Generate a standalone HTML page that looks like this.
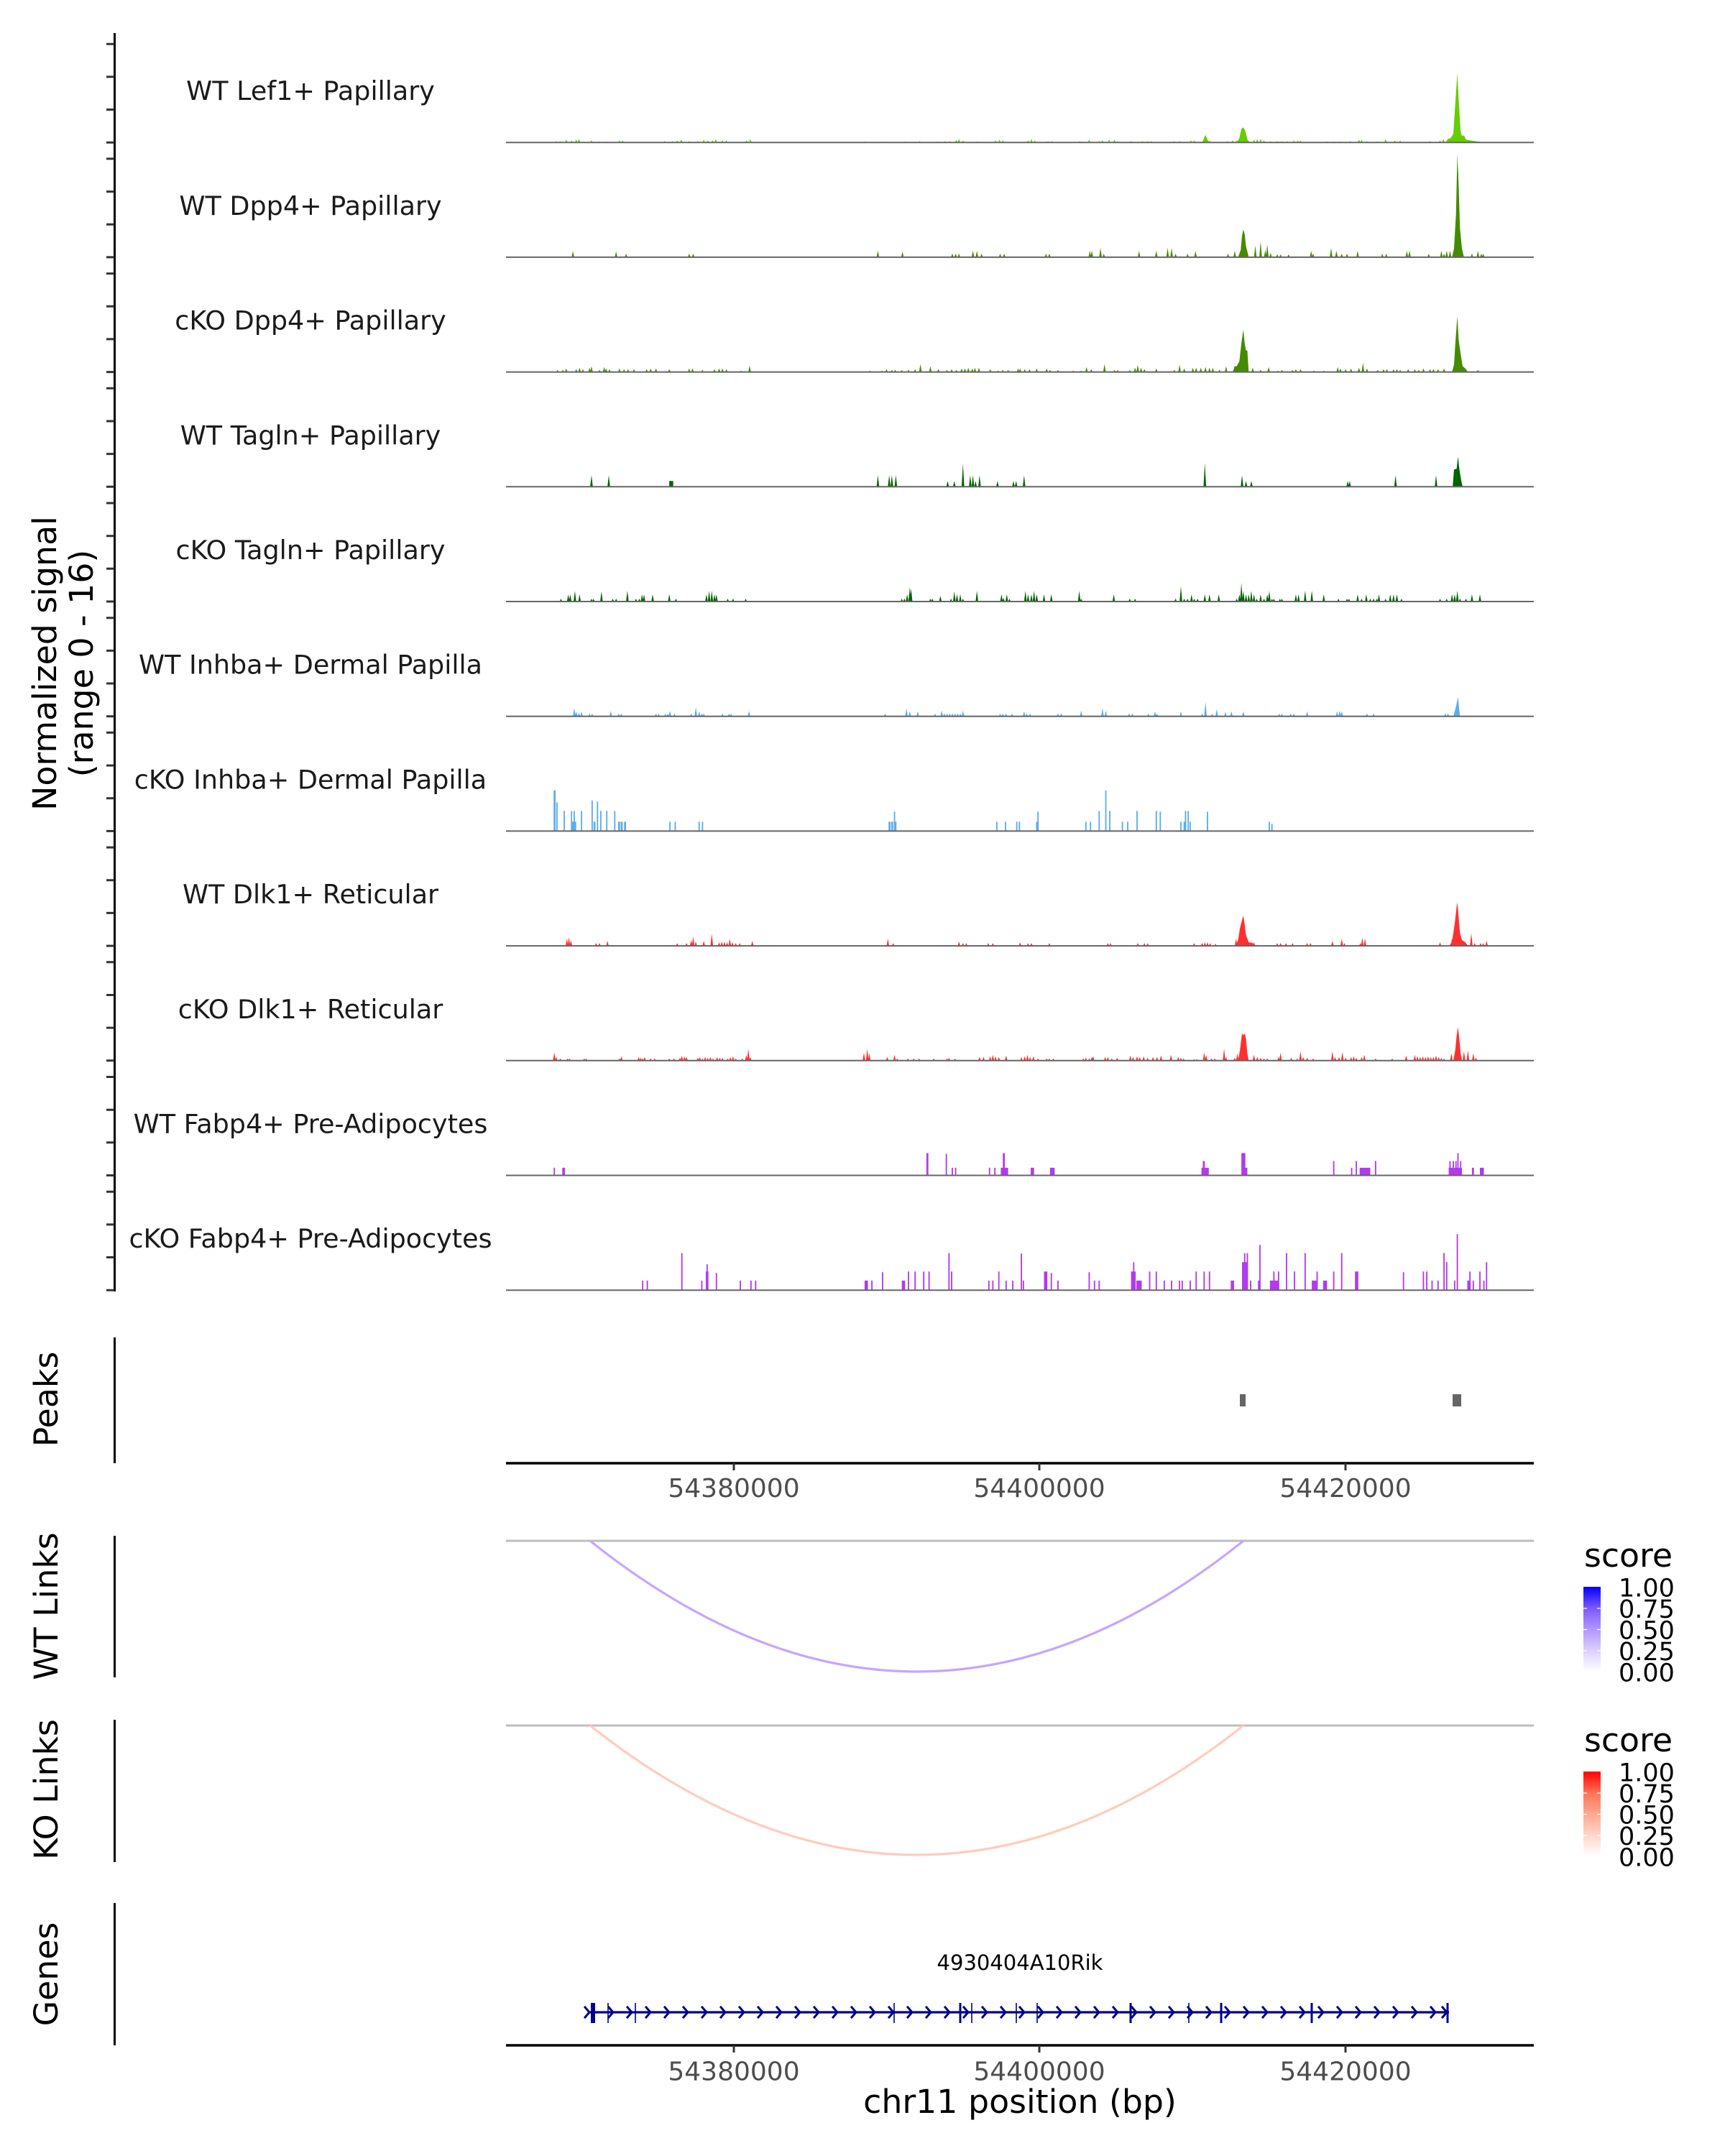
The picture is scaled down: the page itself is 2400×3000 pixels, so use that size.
<!DOCTYPE html>
<html><head><meta charset="utf-8"><style>
html,body{margin:0;padding:0;background:#fff}
svg{display:block}
text{font-family:"DejaVu Sans","Liberation Sans",sans-serif}
</style></head><body>
<svg width="2400" height="3000" viewBox="0 0 2400 3000" xmlns="http://www.w3.org/2000/svg">
<defs>
<linearGradient id="gB" x1="0" y1="1" x2="0" y2="0">
<stop offset="0" stop-color="#ffffff"/><stop offset="0.25" stop-color="#dccfff"/><stop offset="0.5" stop-color="#b096ff"/><stop offset="0.75" stop-color="#7c58ff"/><stop offset="1" stop-color="#0000ff"/>
</linearGradient>
<linearGradient id="gR" x1="0" y1="1" x2="0" y2="0">
<stop offset="0" stop-color="#ffffff"/><stop offset="0.25" stop-color="#ffd5c9"/><stop offset="0.5" stop-color="#ffa890"/><stop offset="0.75" stop-color="#ff7258"/><stop offset="1" stop-color="#ff0000"/>
</linearGradient>
</defs>
<rect width="2400" height="3000" fill="#fff"/>

<!-- y axis title -->
<text transform="translate(78,923) rotate(-90)" text-anchor="middle" font-size="45.8" fill="#000">Normalized signal</text>
<text transform="translate(129,923) rotate(-90)" text-anchor="middle" font-size="45.8" fill="#000">(range 0 - 16)</text>

<!-- track axis -->
<line x1="159.5" y1="46" x2="159.5" y2="1797" stroke="#000" stroke-width="3"/>
<path stroke="#333" stroke-width="3" fill="none" d="M148 198.2H159M148 152.5H159M148 106.9H159M148 61.2H159M148 357.9H159M148 312.2H159M148 266.6H159M148 220.9H159M148 517.6H159M148 471.9H159M148 426.3H159M148 380.6H159M148 677.3H159M148 631.6H159M148 586H159M148 540.3H159M148 837H159M148 791.3H159M148 745.7H159M148 700H159M148 996.7H159M148 951H159M148 905.4H159M148 859.7H159M148 1156.4H159M148 1110.7H159M148 1065.1H159M148 1019.4H159M148 1316.1H159M148 1270.4H159M148 1224.8H159M148 1179.1H159M148 1475.8H159M148 1430.1H159M148 1384.5H159M148 1338.8H159M148 1635.5H159M148 1589.8H159M148 1544.2H159M148 1498.5H159M148 1795.2H159M148 1749.5H159M148 1703.9H159M148 1658.2H159"/>

<!-- track labels -->
<g font-size="36.5" fill="#1a1a1a" text-anchor="middle">
<text x="432" y="139.2">WT Lef1+ Papillary</text>
<text x="432" y="298.9">WT Dpp4+ Papillary</text>
<text x="432" y="458.6">cKO Dpp4+ Papillary</text>
<text x="432" y="618.3">WT Tagln+ Papillary</text>
<text x="432" y="778">cKO Tagln+ Papillary</text>
<text x="432" y="937.7">WT Inhba+ Dermal Papilla</text>
<text x="432" y="1097.4">cKO Inhba+ Dermal Papilla</text>
<text x="432" y="1257.1">WT Dlk1+ Reticular</text>
<text x="432" y="1416.8">cKO Dlk1+ Reticular</text>
<text x="432" y="1576.5">WT Fabp4+ Pre-Adipocytes</text>
<text x="432" y="1736.2">cKO Fabp4+ Pre-Adipocytes</text>
</g>

<!-- Track 0 WT Lef1 -->
<g transform="translate(700,198.2) scale(0.9245,1)"><path fill="#66CD00" d="M78 0l2-2l2 2zM84 0l2-2l2 2zM93 0l2-4l2 4zM101 0l2-3l2 3zM108 0l2-4l2 4zM112 0l2-5l2 5zM131 0l2-3l2 3zM143 0l2-1.5l2 1.5zM153 0l2-1.5l2 1.5zM173 0l2-3l2 3zM178 0l2-3l2 3zM196 0l2-1l2 1zM241 0l2-2l2 2zM253 0l2-2l2 2zM260 0l2-3l2 3zM266 0l2-4l2 4zM278 0l2-2l2 2zM291 0l2-2l2 2zM300 0l2-4l2 4zM306 0l2-3l2 3zM313 0l2-3l2 3zM318 0l2-5l2 5zM328 0l2-3l2 3zM334 0l2-3l2 3zM364 0l2-3l2 3zM370 0l2-5l2 5zM542 0l2-1.5l2 1.5zM573 0l2-1.5l2 1.5zM603 0l2-1.5l2 1.5zM625 0l2-2l2 2zM653 0l2-1.5l2 1.5zM663 0l2-2l2 2zM670 0l2-2l2 2zM680 0l2-4l2 4zM684 0l2-5l2 5zM690 0l2-3l2 3zM710 0l2-1.5l2 1.5zM739 0l2-3l2 3zM745 0l2-4l2 4zM750 0l2-3l2 3zM788 0l2-3l2 3zM793 0l2-5l2 5zM798 0l2-3l2 3zM818 0l2-2l2 2zM824 0l2-2l2 2zM866 0l2-2l2 2zM880 0l2-4l2 4zM895 0l2-2l2 2zM900 0l2-3l2 3zM910 0l2-4l2 4zM918 0l2-4l2 4zM923 0l2-2l2 2zM943 0l2-2l2 2zM960 0l2-2l2 2zM968 0l2-2l2 2zM973 0l2-2l2 2zM1008 0l2-2l2 2zM1016 0l2-2l2 2zM1033 0l2-3l2 3zM1038 0l2-3l2 3zM1052 0l5-10.6l5 10.6zM1061 0l2-3l2 3zM1088 0l2-2l2 2zM1096 0l2-3l2 3zM1102 0l2-3l2 3zM1104 0L1108-6L1111-19L1114-21L1117-16L1120-4L1124 0zM1128 0l2-4l2 4zM1133 0l2-5l2 5zM1138 0l2-5l2 5zM1143 0l2-3l2 3zM1153 0l2-2l2 2zM1163 0l2-2l2 2zM1170 0l2-2l2 2zM1178 0l2-2l2 2zM1188 0l2-3l2 3zM1194 0l2-3l2 3zM1198 0l2-3l2 3zM1238 0l2-1.5l2 1.5zM1248 0l2-1.5l2 1.5zM1258 0l2-1.5l2 1.5zM1273 0l2-2l2 2zM1286 0l2-4l2 4zM1290 0l2-4l2 4zM1298 0l2-2l2 2zM1313 0l2-1.5l2 1.5zM1326 0l2-5l2 5zM1340 0l2-3l2 3zM1348 0l2-3l2 3zM1378 0l2-1l2 1zM1393 0l2-2l2 2zM1408 0l2-3l2 3zM1413 0l2-5l2 5zM1418 0L1422-5L1426-6L1430-12L1433-55L1436-96L1438-60L1441-15L1443-9L1446-10L1449-4L1455-3L1462-2L1470-1L1480 0z"/></g>

<!-- Track 1 WT Dpp4 -->
<g transform="translate(700,357.9) scale(0.9245,1)"><path fill="#458B00" d="M1428 0L1431-12L1434-60L1436-144L1438-100L1440-40L1443-12L1446 0zM1106 0L1110-10L1112-30L1114-38.6L1116-32L1118-15L1120-8L1122 0zM103 0l2-8.6l2 8.6zM168 0l2-8l2 8zM183 0l2-5l2 5zM278 0l2-5l2 5zM284 0l2-5l2 5zM562 0l2-9l2 9zM599 0l2-8l2 8zM674 0l2-5l2 5zM679 0l2-5l2 5zM684 0l2-5l2 5zM705 0l2-9l2 9zM711 0l2-9l2 9zM718 0l2-5l2 5zM746 0l2-5l2 5zM752 0l2-5l2 5zM815 0l2-5l2 5zM820 0l2-5l2 5zM881 0l2-9l2 9zM884 0l2-9l2 9zM897 0l2-13l2 13zM902 0l2-5l2 5zM955 0l2-9l2 9zM981 0l2-9l2 9zM998 0l2-13l2 13zM1004 0l2-13l2 13zM1010 0l2-5l2 5zM1028 0l2-5l2 5zM1040 0l2-9l2 9zM1089 0l2-5l2 5zM1099 0l2-9l2 9zM1130 0l2-16l2 16zM1138 0l2-22l2 22zM1145 0l2-10l2 10zM1148 0l2-18l2 18zM1153 0l2-6l2 6zM1163 0l2-4l2 4zM1168 0l2-4l2 4zM1180 0l2-4l2 4zM1214 0l2-9l2 9zM1217 0l2-5l2 5zM1244 0l2-13l2 13zM1252 0l2-9l2 9zM1260 0l2-5l2 5zM1268 0l2-5l2 5zM1284 0l2-9l2 9zM1321 0l2-5l2 5zM1327 0l2-5l2 5zM1358 0l2-9l2 9zM1362 0l2-9l2 9zM1391 0l2-5l2 5zM1410 0l2-9l2 9zM1414 0l2-5l2 5zM1418 0l2-9l2 9zM1423 0l2-9l2 9zM1456 0l2-5l2 5zM1465 0l2-9l2 9zM1470 0l2-5l2 5zM1473 0l2-5l2 5z"/></g>

<!-- Track 2 cKO Dpp4 -->
<g transform="translate(700,517.6) scale(0.9245,1)"><path fill="#458B00" d="M1428 0L1431-10L1433-40L1436-77.5L1438-45L1441-25L1444-8L1448-5L1452 0zM1098 0L1101-8L1104-8L1108-15L1111-40L1114-59L1116-40L1118-30L1120-30L1122 0zM80 0l2-3l2 3zM88 0l2-3l2 3zM93 0l2-5l2 5zM108 0l2-4l2 4zM113 0l2-6l2 6zM118 0l2-4l2 4zM128 0l2-6l2 6zM131 0l2-8l2 8zM143 0l2-3l2 3zM150 0l2-7l2 7zM153 0l2-5l2 5zM158 0l2-4l2 4zM173 0l2-5l2 5zM180 0l2-4l2 4zM186 0l2-4l2 4zM195 0l2-4l2 4zM214 0l2-4l2 4zM220 0l2-5l2 5zM228 0l2-5l2 5zM248 0l2-4l2 4zM278 0l2-5l2 5zM283 0l2-5l2 5zM298 0l2-3l2 3zM316 0l2-4l2 4zM323 0l2-5l2 5zM328 0l2-5l2 5zM334 0l2-4l2 4zM356 0l2-2l2 2zM369 0l2-9l2 9zM550 0l2-2l2 2zM568 0l2-2l2 2zM575 0l2-4l2 4zM583 0l2-3l2 3zM588 0l2-3l2 3zM598 0l2-3l2 3zM608 0l2-3l2 3zM618 0l2-4l2 4zM626 0l2-11l2 11zM641 0l2-8l2 8zM653 0l2-4l2 4zM666 0l2-3l2 3zM673 0l2-4l2 4zM680 0l2-3l2 3zM688 0l2-5l2 5zM693 0l2-5l2 5zM698 0l2-6l2 6zM704 0l2-5l2 5zM708 0l2-6l2 6zM714 0l2-6l2 6zM731 0l2-4l2 4zM743 0l2-2l2 2zM750 0l2-3l2 3zM758 0l2-3l2 3zM773 0l2-5l2 5zM776 0l2-5l2 5zM783 0l2-4l2 4zM790 0l2-4l2 4zM801 0l2-5l2 5zM816 0l2-5l2 5zM821 0l2-3l2 3zM833 0l2-3l2 3zM856 0l2-2l2 2zM868 0l2-2l2 2zM876 0l2-7l2 7zM883 0l2-4l2 4zM903 0l2-11l2 11zM918 0l2-3l2 3zM923 0l2-3l2 3zM941 0l2-3l2 3zM949 0l2-6l2 6zM953 0l2-10l2 10zM958 0l2-6l2 6zM963 0l2-4l2 4zM981 0l2-5l2 5zM1008 0l2-3l2 3zM1016 0l2-10l2 10zM1023 0l2-5l2 5zM1036 0l2-6l2 6zM1041 0l2-6l2 6zM1048 0l2-6l2 6zM1055 0l2-7l2 7zM1061 0l2-6l2 6zM1066 0l2-6l2 6zM1076 0l2-3l2 3zM1086 0l2-8l2 8zM1126 0l2-6l2 6zM1138 0l2-3l2 3zM1150 0l2-7l2 7zM1164 0l2-2l2 2zM1170 0l2-3l2 3zM1186 0l2-3l2 3zM1191 0l2-4l2 4zM1198 0l2-4l2 4zM1218 0l2-2l2 2zM1233 0l2-2l2 2zM1254 0l2-7l2 7zM1258 0l2-5l2 5zM1266 0l2-4l2 4zM1274 0l2-5l2 5zM1286 0l2-6l2 6zM1292 0l2-13l2 13zM1298 0l2-5l2 5zM1314 0l2-3l2 3zM1323 0l2-4l2 4zM1328 0l2-4l2 4zM1338 0l2-4l2 4zM1343 0l2-4l2 4zM1348 0l2-3l2 3zM1360 0l2-4l2 4zM1370 0l2-4l2 4zM1376 0l2-3l2 3zM1383 0l2-5l2 5zM1393 0l2-4l2 4zM1398 0l2-4l2 4zM1405 0l2-4l2 4zM1414 0l2-5l2 5zM1465 0l2-3l2 3z"/></g>

<!-- Track 3 WT Tagln -->
<g transform="translate(700,677.3) scale(0.9245,1)"><path fill="#006400" d="M131 0l2-16l2 16zM157 0l2-16l2 16zM250 0v-8h6v8zM562 0l2-16l2 16zM579 0l2-16l2 16zM583 0l2-16l2 16zM589 0l2-16l2 16zM667 0l2-8l2 8zM677 0l2-8l2 8zM690 0l2-32l2 32zM701 0l2-16l2 16zM705 0l2-16l2 16zM709 0l2-8l2 8zM715 0l2-16l2 16zM742 0l2-8l2 8zM766 0l2-8l2 8zM770 0l2-8l2 8zM782 0l2-16l2 16zM1054 0l2-33l2 33zM1110 0l2-16l2 16zM1116 0l2-8l2 8zM1124 0l2-8l2 8zM1269 0l2-8l2 8zM1272 0l2-8l2 8zM1341 0l2-16l2 16zM1402 0l2-16l2 16zM1429 0L1431-24L1435-25L1437-42L1439-25L1442-8L1444 0z"/></g>

<!-- Track 4 cKO Tagln -->
<g transform="translate(700,837) scale(0.9245,1)"><path fill="#006400" d="M85 0l2-4l2 4zM96 0l2-10l2 10zM99 0l2-10l2 10zM106 0l2-15l2 15zM113 0l2-10l2 10zM131 0l2-4l2 4zM134 0l2-4l2 4zM146 0l2-14l2 14zM163 0l2-4l2 4zM168 0l2-4l2 4zM185 0l2-15l2 15zM198 0l2-4l2 4zM203 0l2-4l2 4zM207 0l2-10l2 10zM210 0l2-10l2 10zM223 0l2-10l2 10zM248 0l2-10l2 10zM258 0l2-4l2 4zM304 0l2-10l2 10zM308 0l2-15l2 15zM312 0l2-15l2 15zM316 0l2-10l2 10zM319 0l2-10l2 10zM336 0l2-4l2 4zM344 0l2-4l2 4zM363 0l2-4l2 4zM598 0l2-4l2 4zM602 0l2-4l2 4zM606 0l2-10l2 10zM610 0l2-20l2 20zM612 0l2-18l2 18zM641 0l2-4l2 4zM644 0l2-4l2 4zM656 0l2-8l2 8zM672 0l2-4l2 4zM677 0l2-14l2 14zM681 0l2-10l2 10zM686 0l2-10l2 10zM690 0l2-4l2 4zM711 0l2-15l2 15zM748 0l2-10l2 10zM751 0l2-5l2 5zM756 0l2-10l2 10zM760 0l2-4l2 4zM784 0l2-15l2 15zM788 0l2-10l2 10zM793 0l2-10l2 10zM797 0l2-15l2 15zM801 0l2-10l2 10zM812 0l2-10l2 10zM823 0l2-10l2 10zM865 0l2-15l2 15zM868 0l2-4l2 4zM917 0l2-10l2 10zM941 0l2-4l2 4zM949 0l2-4l2 4zM1010 0l2-4l2 4zM1018 0l2-21l2 21zM1023 0l2-4l2 4zM1028 0l2-4l2 4zM1034 0l2-10l2 10zM1038 0l2-4l2 4zM1043 0l2-4l2 4zM1054 0l2-10l2 10zM1061 0l2-10l2 10zM1075 0l2-10l2 10zM1102 0l2-4l2 4zM1106 0l2-10l2 10zM1109 0l2-26l2 26zM1112 0l2-15l2 15zM1116 0l2-10l2 10zM1120 0l2-10l2 10zM1124 0l2-15l2 15zM1128 0l2-10l2 10zM1132 0l2-4l2 4zM1138 0l2-10l2 10zM1143 0l2-4l2 4zM1148 0l2-10l2 10zM1151 0l2-15l2 15zM1155 0l2-4l2 4zM1158 0l2-4l2 4zM1167 0l2-4l2 4zM1170 0l2-4l2 4zM1191 0l2-10l2 10zM1195 0l2-10l2 10zM1205 0l2-15l2 15zM1215 0l2-15l2 15zM1233 0l2-10l2 10zM1255 0l2-4l2 4zM1268 0l2-4l2 4zM1271 0l2-4l2 4zM1284 0l2-10l2 10zM1290 0l2-4l2 4zM1297 0l2-10l2 10zM1303 0l2-4l2 4zM1308 0l2-4l2 4zM1313 0l2-4l2 4zM1316 0l2-10l2 10zM1326 0l2-4l2 4zM1333 0l2-10l2 10zM1338 0l2-10l2 10zM1343 0l2-10l2 10zM1350 0l2-4l2 4zM1408 0l2-4l2 4zM1418 0l2-4l2 4zM1426 0l2-10l2 10zM1430 0l2-10l2 10zM1434 0l2-15l2 15zM1438 0l2-4l2 4zM1447 0l2-4l2 4zM1456 0l2-10l2 10zM1468 0l2-10l2 10z"/></g>

<!-- Track 5 WT Inhba -->
<g transform="translate(700,996.7) scale(0.9245,1)"><path fill="#5CACEE" d="M105 0l2-12l2 12zM108 0l2-7l2 7zM112 0l2-5l2 5zM116 0l2-7l2 7zM128 0l2-4l2 4zM132 0l2-4l2 4zM160 0l2-7.7l2 7.7zM172 0l2-4l2 4zM176 0l2-4l2 4zM228 0l2-4l2 4zM232 0l2-4l2 4zM242 0l2-4l2 4zM246 0l2-4l2 4zM249 0l2-7.7l2 7.7zM256 0l2-4l2 4zM281 0l2-4l2 4zM288 0l2-12.6l2 12.6zM293 0l2-7l2 7zM297 0l2-4l2 4zM300 0l2-4l2 4zM328 0l2-4l2 4zM338 0l2-4l2 4zM341 0l2-4l2 4zM368 0l2-7.7l2 7.7zM573 0l2-4l2 4zM605 0l2-11l2 11zM610 0l2-7l2 7zM622 0l2-7l2 7zM648 0l2-4l2 4zM658 0l2-8l2 8zM662 0l2-4l2 4zM666 0l2-4l2 4zM670 0l2-4l2 4zM674 0l2-4l2 4zM678 0l2-4l2 4zM682 0l2-4l2 4zM686 0l2-4l2 4zM690 0l2-8l2 8zM746 0l2-4l2 4zM750 0l2-4l2 4zM755 0l2-4l2 4zM764 0l2-4l2 4zM782 0l2-7l2 7zM786 0l2-4l2 4zM791 0l2-4l2 4zM833 0l2-4l2 4zM838 0l2-4l2 4zM868 0l2-8l2 8zM900 0l2-12l2 12zM905 0l2-8l2 8zM940 0l2-4l2 4zM945 0l2-4l2 4zM969 0l2-4l2 4zM979 0l2-7l2 7zM982 0l2-4l2 4zM1018 0l2-7l2 7zM1050 0l2-4l2 4zM1055 0l2-20l2 20zM1065 0l2-4l2 4zM1072 0l2-10l2 10zM1085 0l2-6l2 6zM1094 0l2-7l2 7zM1112 0l2-7l2 7zM1166 0l2-4l2 4zM1170 0l2-4l2 4zM1183 0l2-4l2 4zM1188 0l2-4l2 4zM1208 0l2-7l2 7zM1253 0l2-7l2 7zM1257 0l2-8l2 8zM1260 0l2-7l2 7zM1298 0l2-4l2 4zM1308 0l2-4l2 4zM1416 0l2-4l2 4zM1420 0l2-4l2 4zM1430 0L1433-10L1435-18L1437-27L1439-8L1440 0z"/></g>

<!-- Track 6 cKO Inhba -->
<g transform="translate(700,1156.4) scale(0.9245,1)"><path fill="#5CACEE" d="M76 0v-56.5h3v56.5zM80 0v-40h2v40zM91 0v-28h2v28zM102 0v-28h2v28zM104 0v-13h6v13zM106 0v-28h2v28zM117 0v-28h2v28zM133 0v-42.6h2v42.6zM136 0v-13h3v13zM141 0v-41h2v41zM146 0v-28h2v28zM155 0v-28h2v28zM167 0v-28h2v28zM173 0v-13h3v13zM177 0v-13h3v13zM182 0v-13h3v13zM250 0v-13h2v13zM258 0v-13h2v13zM294 0v-13h2v13zM299 0v-13h2v13zM580 0v-13h3v13zM584 0v-13h3v13zM588 0v-27h2v27zM590 0v-13h2v13zM742 0v-13h2v13zM755 0v-13h2v13zM772 0v-13h2v13zM776 0v-13h2v13zM802 0v-13h4v13zM804 0v-27h2v27zM876 0v-13h2v13zM883 0v-13h2v13zM896 0v-28h2v28zM906 0v-56.5h2v56.5zM912 0v-28h2v28zM931 0v-13h2v13zM939 0v-13h2v13zM953 0v-28h2v28zM982 0v-28h2v28zM988 0v-27h2v27zM1019 0v-13h2v13zM1024 0v-13h3v13zM1026 0v-28h2v28zM1030 0v-28h2v28zM1033 0v-13h2v13zM1059 0v-27h2v27zM1152 0v-13h2v13zM1156 0v-10h2v10z"/></g>

<!-- Track 7 WT Dlk1 -->
<g transform="translate(700,1316.1) scale(0.9245,1)"><path fill="#FF3030" d="M1102 0L1106-8L1109-25L1112-36L1114-42L1116-30L1118-15L1122-5L1128-4L1130 0zM1424 0L1428-6L1432-30L1435-55L1436-60.5L1438-40L1440-18L1443-8L1448-5L1452 0zM94 0l2-10l2 10zM97 0l2-12l2 12zM100 0l2-8l2 8zM138 0l2-4l2 4zM143 0l2-4l2 4zM155 0l2-7l2 7zM260 0l2-4l2 4zM274 0l2-4l2 4zM281 0l2-8l2 8zM284 0l2-13l2 13zM288 0l2-6l2 6zM300 0l2-7l2 7zM312 0l2-17l2 17zM323 0l2-5l2 5zM327 0l2-6l2 6zM331 0l2-6l2 6zM335 0l2-5l2 5zM339 0l2-10l2 10zM343 0l2-5l2 5zM348 0l2-4l2 4zM354 0l2-4l2 4zM373 0l2-7l2 7zM577 0l2-10l2 10zM585 0l2-4l2 4zM684 0l2-6l2 6zM690 0l2-4l2 4zM695 0l2-4l2 4zM728 0l2-4l2 4zM735 0l2-4l2 4zM776 0l2-5l2 5zM788 0l2-4l2 4zM793 0l2-4l2 4zM820 0l2-4l2 4zM908 0l2-4l2 4zM912 0l2-4l2 4zM953 0l2-4l2 4zM963 0l2-4l2 4zM968 0l2-4l2 4zM1038 0l2-4l2 4zM1050 0l2-4l2 4zM1054 0l2-5l2 5zM1058 0l2-5l2 5zM1062 0l2-4l2 4zM1070 0l2-3l2 3zM1101 0l2-10l2 10zM1124 0l2-5l2 5zM1128 0l2-5l2 5zM1163 0l2-4l2 4zM1168 0l2-4l2 4zM1176 0l2-4l2 4zM1186 0l2-4l2 4zM1208 0l2-4l2 4zM1213 0l2-4l2 4zM1246 0l2-7l2 7zM1260 0l2-10l2 10zM1264 0l2-4l2 4zM1288 0l2-4l2 4zM1291 0l2-11l2 11zM1295 0l2-10l2 10zM1408 0l2-5l2 5zM1426 0l2-10l2 10zM1455 0l2-17.6l2 17.6zM1460 0l2-4l2 4zM1469 0l2-4l2 4zM1473 0l2-4l2 4zM1478 0l2-7l2 7z"/></g>

<!-- Track 8 cKO Dlk1 -->
<g transform="translate(700,1475.8) scale(0.9245,1)"><path fill="#FF3030" d="M1106 0L1109-15L1112-38L1114-35L1116-38L1118-30L1120-10L1122 0zM1430 0L1433-15L1435-35L1437-46.6L1439-30L1441-10L1443 0zM75 0l2-11.6l2 11.6zM78 0l2-5l2 5zM84 0l2-3l2 3zM95 0l2-3l2 3zM98 0l2-3l2 3zM120 0l2-3l2 3zM123 0l2-3l2 3zM173 0l2-3l2 3zM176 0l2-6l2 6zM202 0l2-5l2 5zM205 0l2-4l2 4zM208 0l2-3l2 3zM211 0l2-5l2 5zM220 0l2-3l2 3zM226 0l2-3l2 3zM248 0l2-3l2 3zM255 0l2-3l2 3zM264 0l2-4l2 4zM267 0l2-7l2 7zM271 0l2-6l2 6zM274 0l2-5l2 5zM291 0l2-4l2 4zM294 0l2-5l2 5zM298 0l2-3l2 3zM302 0l2-5l2 5zM306 0l2-4l2 4zM310 0l2-5l2 5zM314 0l2-3l2 3zM320 0l2-5l2 5zM324 0l2-4l2 4zM328 0l2-4l2 4zM336 0l2-3l2 3zM340 0l2-5l2 5zM344 0l2-6l2 6zM348 0l2-3l2 3zM358 0l2-3l2 3zM364 0l2-8l2 8zM367 0l2-16.6l2 16.6zM370 0l2-5l2 5zM541 0l2-11l2 11zM546 0l2-16.6l2 16.6zM549 0l2-10l2 10zM576 0l2-5l2 5zM587 0l2-8l2 8zM591 0l2-3l2 3zM607 0l2-3l2 3zM616 0l2-3l2 3zM624 0l2-3l2 3zM646 0l2-3l2 3zM666 0l2-3l2 3zM669 0l2-4l2 4zM678 0l2-3l2 3zM715 0l2-5l2 5zM721 0l2-5l2 5zM731 0l2-6l2 6zM735 0l2-8l2 8zM739 0l2-6l2 6zM744 0l2-5l2 5zM755 0l2-7l2 7zM778 0l2-5l2 5zM783 0l2-6l2 6zM787 0l2-8l2 8zM791 0l2-5l2 5zM796 0l2-6l2 6zM803 0l2-3l2 3zM816 0l2-3l2 3zM820 0l2-3l2 3zM826 0l2-3l2 3zM871 0l2-3l2 3zM875 0l2-4l2 4zM880 0l2-3l2 3zM884 0l2-5l2 5zM886 0l2-6l2 6zM904 0l2-5l2 5zM908 0l2-5l2 5zM914 0l2-3l2 3zM922 0l2-4l2 4zM942 0l2-7l2 7zM946 0l2-5l2 5zM952 0l2-6l2 6zM956 0l2-5l2 5zM962 0l2-6l2 6zM968 0l2-4l2 4zM976 0l2-5l2 5zM982 0l2-5l2 5zM988 0l2-7l2 7zM1003 0l2-8l2 8zM1014 0l2-5l2 5zM1018 0l2-4l2 4zM1022 0l2-3l2 3zM1038 0l2-2l2 2zM1042 0l2-2l2 2zM1053 0l2-11.6l2 11.6zM1056 0l2-8l2 8zM1064 0l2-3l2 3zM1069 0l2-3l2 3zM1083 0l2-16.6l2 16.6zM1086 0l2-5l2 5zM1099 0l2-4l2 4zM1103 0l2-10l2 10zM1128 0l2-8l2 8zM1133 0l2-5l2 5zM1138 0l2-4l2 4zM1143 0l2-3l2 3zM1148 0l2-3l2 3zM1165 0l2-5l2 5zM1168 0l2-11l2 11zM1184 0l2-4l2 4zM1193 0l2-3l2 3zM1198 0l2-13l2 13zM1202 0l2-5l2 5zM1208 0l2-4l2 4zM1217 0l2-3l2 3zM1246 0l2-13l2 13zM1250 0l2-5l2 5zM1256 0l2-5l2 5zM1261 0l2-12l2 12zM1266 0l2-4l2 4zM1274 0l2-5l2 5zM1278 0l2-6l2 6zM1282 0l2-4l2 4zM1290 0l2-5l2 5zM1294 0l2-8l2 8zM1311 0l2-3l2 3zM1336 0l2-3l2 3zM1357 0l2-7l2 7zM1370 0l2-8l2 8zM1374 0l2-6l2 6zM1378 0l2-5l2 5zM1382 0l2-6l2 6zM1386 0l2-5l2 5zM1390 0l2-6l2 6zM1394 0l2-5l2 5zM1398 0l2-5l2 5zM1402 0l2-7l2 7zM1406 0l2-5l2 5zM1410 0l2-4l2 4zM1414 0l2-3l2 3zM1425 0l2-10l2 10zM1444 0l2-13l2 13zM1450 0l2-14l2 14zM1458 0l2-10l2 10zM1462 0l2-4l2 4z"/></g>

<!-- Track 9 WT Fabp4 -->
<g transform="translate(700,1635.5) scale(0.9245,1)"><path fill="#B23AEE" d="M76 0v-10.6h2v10.6zM89 0v-10.6h4v10.6zM637 0v-31h3v31zM666 0v-30h2v30zM675 0v-10.6h2v10.6zM680 0v-10.6h2v10.6zM731 0v-10.6h2v10.6zM739 0v-10.6h2v10.6zM749 0v-10.6h11v10.6zM752 0v-31h3v31zM794 0v-10.6h5v10.6zM823 0v-10.6h7v10.6zM1051 0v-10.6h11v10.6zM1053 0v-20h3v20zM1111 0v-31h6v31zM1117 0v-10.6h3v10.6zM1249 0v-20h2v20zM1276 0v-10.6h2v10.6zM1283 0v-20h2v20zM1289 0v-10.6h16v10.6zM1312 0v-20h2v20zM1423 0v-10.6h20v10.6zM1424 0v-20h2v20zM1429 0v-20h2v20zM1433 0v-20h2v20zM1436 0v-31h2v31zM1440 0v-20h2v20zM1458 0v-10.6h3v10.6zM1470 0v-10.6h6v10.6z"/></g>

<!-- Track 10 cKO Fabp4 -->
<g transform="translate(700,1795.2) scale(0.9245,1)"><path fill="#B23AEE" d="M209 0v-13.3h2v13.3zM216 0v-13.3h2v13.3zM268 0v-51.6h2v51.6zM298 0v-13.3h2v13.3zM305 0v-26h4v26zM306 0v-36h2v36zM320 0v-24h2v24zM356 0v-13.3h2v13.3zM372 0v-13.3h2v13.3zM379 0v-13.3h2v13.3zM544 0v-13.3h5v13.3zM554 0v-13.3h2v13.3zM570 0v-25h2v25zM600 0v-13.3h5v13.3zM609 0v-26h2v26zM619 0v-26h2v26zM632 0v-26h2v26zM640 0v-26h2v26zM670 0v-51.6h2v51.6zM674 0v-26h2v26zM730 0v-13.3h2v13.3zM736 0v-13.3h2v13.3zM745 0v-26h2v26zM756 0v-13.3h2v13.3zM766 0v-13.3h2v13.3zM779 0v-51h2v51zM782 0v-13.3h2v13.3zM814 0v-26h5v26zM824 0v-24h2v24zM834 0v-13.3h2v13.3zM881 0v-25h2v25zM889 0v-13.3h2v13.3zM896 0v-13.3h2v13.3zM945 0v-26h7v26zM948 0v-39h2v39zM953 0v-13.3h8v13.3zM972 0v-26h2v26zM982 0v-26h2v26zM994 0v-13.3h2v13.3zM1005 0v-13.3h2v13.3zM1017 0v-13.3h2v13.3zM1021 0v-13.3h2v13.3zM1033 0v-13.3h2v13.3zM1042 0v-26h2v26zM1054 0v-26h2v26zM1062 0v-26h2v26zM1095 0v-13.3h5v13.3zM1112 0v-39h8v39zM1115 0v-51.6h2v51.6zM1119 0v-51.6h2v51.6zM1124 0v-13.3h2v13.3zM1136 0v-13.3h2v13.3zM1138 0v-63h2v63zM1154 0v-13.3h12v13.3zM1159 0v-26h2v26zM1166 0v-26h2v26zM1178 0v-51.6h2v51.6zM1190 0v-26h2v26zM1206 0v-51.6h2v51.6zM1217 0v-13.3h8v13.3zM1224 0v-26h2v26zM1234 0v-13.3h6v13.3zM1249 0v-26h2v26zM1261 0v-51.6h2v51.6zM1282 0v-26h5v26zM1354 0v-25h2v25zM1384 0v-26h2v26zM1389 0v-26h2v26zM1397 0v-13.3h2v13.3zM1406 0v-13.3h2v13.3zM1415 0v-51.6h2v51.6zM1419 0v-39h2v39zM1431 0v-13.3h2v13.3zM1435 0v-78h2v78zM1451 0v-13.3h5v13.3zM1454 0v-26h2v26zM1459 0v-13.3h2v13.3zM1469 0v-26h2v26zM1475 0v-13.3h2v13.3zM1479 0v-39h2v39z"/></g>

<!-- track baselines -->
<path stroke="#666" stroke-width="2" fill="none" d="M704 198.2H2134M704 357.9H2134M704 517.6H2134M704 677.3H2134M704 837H2134M704 996.7H2134M704 1156.4H2134M704 1316.1H2134M704 1475.8H2134M704 1635.5H2134M704 1795.2H2134"/>

<!-- Peaks -->
<text transform="translate(80,1947) rotate(-90)" text-anchor="middle" font-size="45.8" fill="#000">Peaks</text>
<line x1="159.5" y1="1861" x2="159.5" y2="2036" stroke="#000" stroke-width="3"/>
<rect x="1725" y="1940" width="8" height="17" fill="#666"/>
<rect x="2021" y="1940" width="12" height="17" fill="#666"/>
<line x1="704" y1="2036" x2="2134" y2="2036" stroke="#000" stroke-width="3.5"/>
<path stroke="#333" stroke-width="3" d="M1021 2036v10M1446 2036v10M1872 2036v10"/>
<g font-size="36" fill="#4D4D4D" text-anchor="middle">
<text x="1021" y="2083">54380000</text>
<text x="1446" y="2083">54400000</text>
<text x="1872" y="2083">54420000</text>
</g>

<!-- WT Links -->
<text transform="translate(80,2235) rotate(-90)" text-anchor="middle" font-size="45.8" fill="#000">WT Links</text>
<line x1="159.5" y1="2137" x2="159.5" y2="2334" stroke="#000" stroke-width="3"/>
<line x1="704" y1="2144" x2="2134" y2="2144" stroke="#bebebe" stroke-width="3"/>
<path d="M821 2144Q1276 2508 1730 2144" fill="none" stroke="#C6A6FE" stroke-width="3.2"/>

<!-- KO Links -->
<text transform="translate(80,2490) rotate(-90)" text-anchor="middle" font-size="45.8" fill="#000">KO Links</text>
<line x1="159.5" y1="2393" x2="159.5" y2="2591" stroke="#000" stroke-width="3"/>
<line x1="704" y1="2401" x2="2134" y2="2401" stroke="#bebebe" stroke-width="3"/>
<path d="M821 2401Q1276 2761 1730 2401" fill="none" stroke="#FFCCBC" stroke-width="3.2"/>

<!-- legends -->
<text x="2204" y="2180" font-size="45.8" fill="#000">score</text>
<rect x="2203" y="2208" width="24" height="118" fill="url(#gB)"/>
<path stroke="#fff" stroke-width="1.2" d="M2203 2238h5M2222 2238h5M2203 2267.5h5M2222 2267.5h5M2203 2297h5M2222 2297h5"/>
<g font-size="35" fill="#000">
<text x="2252" y="2221.5">1.00</text>
<text x="2252" y="2251">0.75</text>
<text x="2252" y="2280.5">0.50</text>
<text x="2252" y="2310">0.25</text>
<text x="2252" y="2339.5">0.00</text>
</g>
<text x="2204" y="2437" font-size="45.8" fill="#000">score</text>
<rect x="2203" y="2465" width="24" height="118" fill="url(#gR)"/>
<path stroke="#fff" stroke-width="1.2" d="M2203 2495h5M2222 2495h5M2203 2524.5h5M2222 2524.5h5M2203 2554h5M2222 2554h5"/>
<g font-size="35" fill="#000">
<text x="2252" y="2478.5">1.00</text>
<text x="2252" y="2508">0.75</text>
<text x="2252" y="2537.5">0.50</text>
<text x="2252" y="2567">0.25</text>
<text x="2252" y="2596.5">0.00</text>
</g>

<!-- Genes -->
<text transform="translate(80,2747) rotate(-90)" text-anchor="middle" font-size="45.8" fill="#000">Genes</text>
<line x1="159.5" y1="2648" x2="159.5" y2="2846" stroke="#000" stroke-width="3"/>
<text x="1419" y="2741" font-size="29" fill="#000" text-anchor="middle">4930404A10Rik</text>
<line x1="821" y1="2800" x2="2016" y2="2800" stroke="#00008B" stroke-width="3.3"/>
<rect x="822" y="2787" width="6" height="28" fill="#00008B"/>
<path stroke="#00008B" stroke-width="1.6" fill="none" d="M846 2787v28M884 2787v28M1244 2787v28M1352 2787v28M1414 2787v28M1443 2787v28M1654 2787v28"/>
<path stroke="#00008B" stroke-width="3" fill="none" d="M1336 2787v28M1573 2787v28M1699 2787v28M1825 2787v28M2014 2787v28"/>
<path stroke="#00008B" stroke-width="3" fill="none" stroke-linecap="square" d="M814 2793l6 7-6 7M847 2793l6 7-6 7M873 2793l6 7-6 7M899 2793l6 7-6 7M925 2793l6 7-6 7M951 2793l6 7-6 7M977 2793l6 7-6 7M1003 2793l6 7-6 7M1029 2793l6 7-6 7M1055 2793l6 7-6 7M1081 2793l6 7-6 7M1107 2793l6 7-6 7M1133 2793l6 7-6 7M1159 2793l6 7-6 7M1185 2793l6 7-6 7M1211 2793l6 7-6 7M1237 2793l6 7-6 7M1263 2793l6 7-6 7M1289 2793l6 7-6 7M1315 2793l6 7-6 7M1341 2793l6 7-6 7M1367 2793l6 7-6 7M1393 2793l6 7-6 7M1419 2793l6 7-6 7M1445 2793l6 7-6 7M1471 2793l6 7-6 7M1497 2793l6 7-6 7M1523 2793l6 7-6 7M1549 2793l6 7-6 7M1575 2793l6 7-6 7M1601 2793l6 7-6 7M1627 2793l6 7-6 7M1653 2793l6 7-6 7M1679 2793l6 7-6 7M1705 2793l6 7-6 7M1731 2793l6 7-6 7M1757 2793l6 7-6 7M1783 2793l6 7-6 7M1809 2793l6 7-6 7M1835 2793l6 7-6 7M1861 2793l6 7-6 7M1887 2793l6 7-6 7M1913 2793l6 7-6 7M1939 2793l6 7-6 7M1965 2793l6 7-6 7M1991 2793l6 7-6 7M2007 2793l6 7-6 7"/>
<line x1="704" y1="2846" x2="2134" y2="2846" stroke="#000" stroke-width="3.5"/>
<path stroke="#333" stroke-width="3" d="M1021 2846v10M1446 2846v10M1872 2846v10"/>
<g font-size="36" fill="#4D4D4D" text-anchor="middle">
<text x="1021" y="2894.5">54380000</text>
<text x="1446" y="2894.5">54400000</text>
<text x="1872" y="2894.5">54420000</text>
</g>
<text x="1419" y="2940" font-size="45.8" fill="#000" text-anchor="middle">chr11 position (bp)</text>
</svg>
</body></html>
